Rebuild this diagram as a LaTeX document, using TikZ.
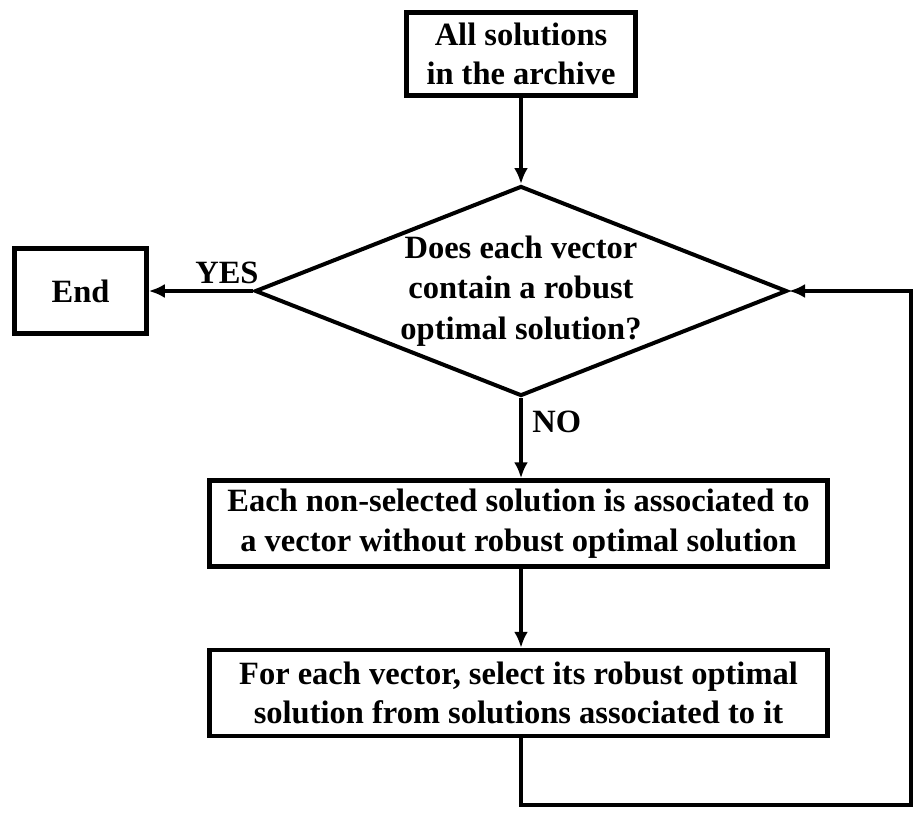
\documentclass[tikz,border=0pt]{standalone}
\usepackage{fontspec}
\setmainfont{Liberation Serif}
\usetikzlibrary{shapes.geometric,arrows.meta}
\begin{document}
\begin{tikzpicture}[x=1pt, y=-1pt,
        box/.style = {draw, line width=4.5pt, align=center, inner sep=0pt,
            font=\fontsize{32.5}{39.5}\selectfont\bfseries},
        decision/.style = {draw, diamond, aspect=2.5, line width=4pt, align=center, inner sep=0pt,
            minimum width=532pt, minimum height=210pt,
            font=\fontsize{32.5}{40.5}\selectfont\bfseries},
        flow/.style = {line width=4pt, -{Latex[length=16pt, width=14pt]}},
        tag/.style = {font=\fontsize{32.5}{39}\selectfont\bfseries}
    ]
    \useasboundingbox (0,0) rectangle (924,819);
    \node [box, minimum width=229pt, minimum height=83pt] (archive) at (521,54)
        {All solutions\\in the archive};
    \node [decision] (check) at (521,291)
        {Does each vector\\contain a robust\\optimal solution?};
    \node [box, minimum width=132pt, minimum height=85pt] (end) at (80.5,291) {End};
    \node [box, minimum width=618pt, minimum height=86pt] (assoc) at (518.5,523.5)
        {Each non-selected solution is associated to\\a vector without robust optimal solution};
    \node [box, minimum width=618pt, minimum height=86pt] (select) at (518.5,693)
        {For each vector, select its robust optimal\\solution from solutions associated to it};
    \coordinate (loop) at (911,805);
    % main flow
    \draw [flow] (archive.south) -- (check.north);
    \draw [flow] (check.west) -- (end.east) node [tag, pos=0.25, above=2pt] {YES};
    \draw [flow] (check.south) -- (check.south |- assoc.north) node [tag, pos=0.3, right=6pt] {NO};
    \draw [flow] (assoc.south -| check.south) -- (check.south |- select.north);
    % back to the test
    \draw [flow] (check.south |- select.south) |- (loop) |- (check.east);
\end{tikzpicture}
\end{document}
